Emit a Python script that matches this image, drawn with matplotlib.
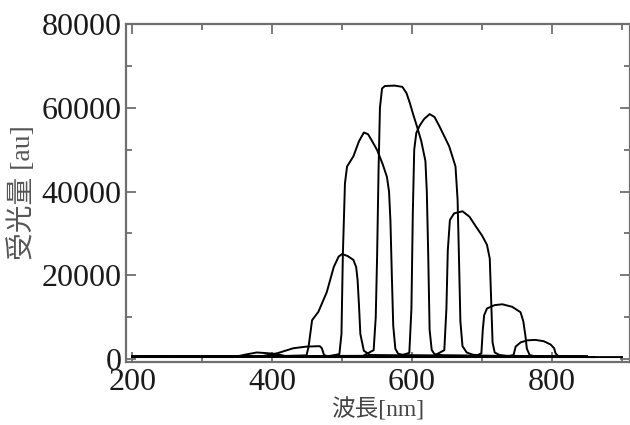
import matplotlib
matplotlib.use("Agg")
import matplotlib.pyplot as plt
from matplotlib.ticker import MultipleLocator

# --- data (wavelength nm, received light au) ---
uv_x = [200, 300, 345, 362, 378, 395, 407, 420, 440, 900]
uv_y = [500, 500, 500, 1100, 1600, 1400, 1200, 700, 500, 500]

violet_x = [200, 350, 385, 407, 430, 449, 468, 471, 474, 480, 600, 860]
violet_y = [600, 600, 700, 1400, 2600, 3000, 3100, 2600, 1000, 600, 600, 500]

blue_x = [200, 400, 449, 452, 457, 466, 478, 488, 495, 500, 508, 516, 520, 522, 524, 526, 531, 540, 650, 850]
blue_y = [700, 700, 900, 3000, 9300, 11300, 16000, 22000, 24500, 25100, 24600, 23700, 22000, 19000, 13000, 6000, 2000, 1000, 800, 600]

green_x = [200, 480, 496, 499, 501, 504, 507, 516, 524, 531, 537, 543, 550, 558, 564, 567, 569, 571, 573, 576, 580, 590, 850]
green_y = [600, 700, 1200, 6000, 25000, 42000, 46000, 48400, 52000, 54100, 53700, 52000, 49900, 46500, 43500, 40000, 33000, 20000, 8000, 2500, 1300, 900, 600]

yellow_x = [200, 530, 545, 548, 550, 552, 554, 557, 561, 575, 586, 592, 597, 601, 607, 613, 619, 621, 623, 625, 628, 632, 645, 850]
yellow_y = [600, 800, 2150, 10000, 25000, 45000, 60000, 64600, 65200, 65300, 65000, 63500, 61000, 58700, 55500, 52100, 47300, 40000, 25000, 7000, 2200, 1200, 900, 600]

orange_x = [200, 580, 596, 599, 601, 603, 606, 611, 617, 625, 632, 639, 653, 662, 665, 667, 669, 672, 678, 686, 700, 850]
orange_y = [600, 700, 1500, 12000, 35000, 50000, 54000, 55800, 57300, 58500, 57800, 55600, 50800, 46000, 38000, 24000, 9000, 3100, 1600, 1100, 800, 600]

red_x = [200, 630, 646, 649, 651, 654, 660, 672, 682, 691, 700, 707, 711, 713, 715, 718, 725, 735, 850]
red_y = [600, 700, 2150, 12000, 26000, 33200, 34800, 35300, 34000, 31700, 29500, 27300, 24000, 14000, 4000, 1600, 1000, 800, 600]

deepred_x = [200, 690, 699, 701, 703, 707, 718, 729, 743, 755, 759, 762, 764, 768, 775, 790, 850]
deepred_y = [600, 700, 1400, 7000, 10500, 12100, 12900, 13100, 12500, 11200, 9000, 5500, 2500, 1000, 700, 600, 600]

ir_x = [200, 735, 745, 748, 755, 765, 776, 788, 798, 803, 805, 809, 830, 850]
ir_y = [600, 600, 1000, 3000, 4000, 4500, 4600, 4300, 3500, 2600, 1400, 700, 600, 600]

series = [(uv_x, uv_y), (violet_x, violet_y), (blue_x, blue_y), (green_x, green_y),
          (yellow_x, yellow_y), (orange_x, orange_y), (red_x, red_y),
          (deepred_x, deepred_y), (ir_x, ir_y)]

x_ticks = [200, 400, 600, 800]
y_ticks = [0, 20000, 40000, 60000, 80000]
x_label = "波長[nm]"
y_label = "受光量 [au]"

fig = plt.figure(figsize=(6.3, 4.25), dpi=100)
ax = fig.add_axes([0.2, 0.148, 0.7995, 0.7955])

for xs, ys in series:
    ax.plot(xs, ys, color="black", lw=1.4, solid_joinstyle="round")

ax.set_xlim(191, 911)
ax.set_ylim(-700, 80000)
ax.set_xticks(x_ticks)
ax.set_yticks(y_ticks)
ax.xaxis.set_minor_locator(MultipleLocator(100))
ax.yaxis.set_minor_locator(MultipleLocator(10000))

spine_col = "#6f6f6f"
for s in ax.spines.values():
    s.set_color(spine_col)
    s.set_linewidth(1.6)

ax.tick_params(which="both", direction="in", top=True, right=True, color=spine_col, width=1.3)
ax.tick_params(which="major", length=7)
ax.tick_params(which="minor", length=4)
ax.tick_params(axis="x", which="major", pad=4)
ax.tick_params(axis="y", which="major", pad=3)

for lab in ax.get_xticklabels() + ax.get_yticklabels():
    lab.set_fontfamily("Liberation Serif")
    lab.set_fontsize(23)
    lab.set_color("#1a1a1a")

fam = ["Liberation Serif", "Noto Sans CJK JP"]
ax.set_xlabel(x_label, family=fam, fontsize=17, color="#444444", labelpad=1)
ax.set_ylabel(y_label, family=fam, fontsize=20, color="#555555", labelpad=4)

fig.savefig("out.png", dpi=100)
